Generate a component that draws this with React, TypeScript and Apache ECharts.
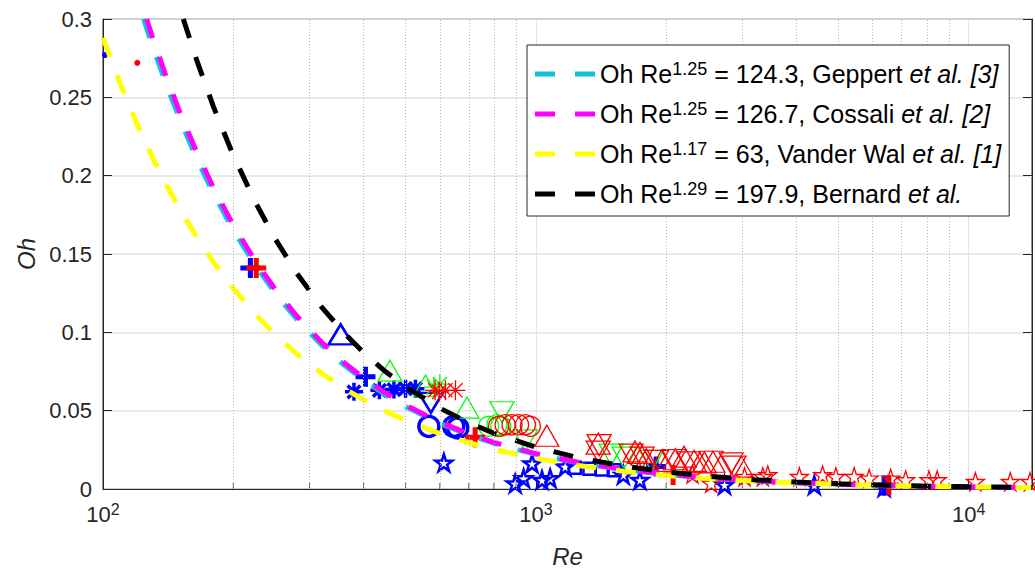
import React, { useEffect, useRef } from 'react';
import * as echarts from 'echarts';

// ---------- Fitted curves (from where it enters the plot) ----------
const RE_GEPPERT = [124.1, 130, 140, 150, 165, 180, 200, 225, 250, 280, 320, 360, 400, 450, 500, 600, 700, 800, 1000, 1250, 1600, 2000, 2500, 3200, 4000, 5000, 6500, 8000, 10000, 14000];
const OH_GEPPERT = [0.3, 0.2832, 0.2581, 0.2368, 0.2102, 0.1886, 0.1652, 0.1426, 0.125, 0.1085, 0.09184, 0.07926, 0.0695, 0.05998, 0.05257, 0.04185, 0.03452, 0.02921, 0.02211, 0.01672, 0.01228, 0.009294, 0.007033, 0.005165, 0.003908, 0.002956, 0.00213, 0.001643, 0.001243, 0.000816];
const RE_COSSALI = [126.1, 130, 140, 150, 165, 180, 200, 225, 250, 280, 320, 360, 400, 450, 500, 600, 700, 800, 1000, 1250, 1600, 2000, 2500, 3200, 4000, 5000, 6500, 8000, 10000, 14000];
const OH_COSSALI = [0.3, 0.2886, 0.2631, 0.2414, 0.2143, 0.1922, 0.1684, 0.1454, 0.1274, 0.1106, 0.09362, 0.08079, 0.07084, 0.06114, 0.05358, 0.04266, 0.03519, 0.02977, 0.02253, 0.01704, 0.01252, 0.009474, 0.007168, 0.005265, 0.003983, 0.003013, 0.002171, 0.001675, 0.001267, 0.000832];
const RE_VANDERWAL = [100, 110, 120, 130, 140, 150, 165, 180, 200, 225, 250, 280, 320, 360, 400, 450, 500, 600, 700, 800, 1000, 1250, 1600, 2000, 2500, 3200, 4000, 5000, 6500, 8000, 10000, 14000];
const OH_VANDERWAL = [0.288, 0.2576, 0.2326, 0.2119, 0.1943, 0.1792, 0.1603, 0.1448, 0.128, 0.1115, 0.09857, 0.08633, 0.07384, 0.06434, 0.05688, 0.04955, 0.04381, 0.03538, 0.02954, 0.02527, 0.01948, 0.01499, 0.01123, 0.008652, 0.006664, 0.004992, 0.003846, 0.002961, 0.00218, 0.001709, 0.001316, 0.000888];
const RE_BERNARD = [153.3, 165, 180, 200, 225, 250, 280, 320, 360, 400, 450, 500, 600, 700, 800, 1000, 1250, 1600, 2000, 2500, 3200, 4000, 5000, 6500, 8000, 10000, 14000];
const OH_BERNARD = [0.3, 0.2729, 0.2439, 0.2129, 0.1829, 0.1596, 0.1379, 0.1161, 0.09973, 0.08706, 0.07478, 0.06528, 0.0516, 0.04228, 0.0356, 0.0267, 0.02002, 0.01456, 0.010917, 0.008187, 0.005955, 0.004465, 0.003347, 0.002386, 0.001826, 0.001369, 0.000887];

const CURVE_NAMES = ['Geppert', 'Cossali', 'VanderWal', 'Bernard'];
const CURVE_EXPONENTS = ['1.25', '1.25', '1.17', '1.29'];
const CURVE_CONSTANTS = ['124.3', '126.7', '63', '197.9'];
const CURVE_AUTHORS = ['Geppert', 'Cossali', 'Vander Wal', 'Bernard'];
const CURVE_REFS = [' [3]', ' [2]', ' [1]', ''];
const CURVE_COLORS = ['#12C3DA', '#FF00FF', '#FFFF00', '#000000'];

// ---------- Experimental points [Re, Oh] ----------
const BLUE_DOT = [[101, 0.277]];
const RED_DOT = [[120, 0.272]];
const BLUE_PLUS = [[219, 0.141], [404, 0.0717], [1896, 0.0143], [6375, 0.002]];
const RED_PLUS = [[226, 0.141], [724, 0.033], [2075, 0.009], [6540, 0.0025]];
const BLUE_TRI_UP = [[354, 0.0987]];
const BLUE_ASTERISK = [[380, 0.062], [435, 0.063], [470, 0.0635], [500, 0.064], [527, 0.064]];
const BLUE_TRI_DOWN = [[572, 0.055]];
const BLUE_CIRCLE = [[566, 0.04], [646, 0.04], [660, 0.039]];
const BLUE_SQUARE = [[1230, 0.0135], [1330, 0.013], [1420, 0.0125], [1520, 0.012]];
const BLUE_STAR = [[613, 0.0168], [896, 0.0035], [937, 0.0068], [980, 0.0163], [1033, 0.0058], [1079, 0.0068], [1169, 0.0143], [1592, 0.009], [1739, 0.0058], [2728, 0.0027], [4398, 0.0025], [6375, 0.0012]];
const GREEN_TRI_UP = [[460, 0.0755], [556, 0.066], [693, 0.052]];
const GREEN_ASTERISK = [[581, 0.065], [600, 0.067]];
const GREEN_CIRCLE = [[778, 0.04], [813, 0.041], [830, 0.04]];
const GREEN_TRI_DOWN = [[835, 0.049], [946, 0.031], [1493, 0.022], [1600, 0.02], [1850, 0.018]];
const RED_ASTERISK = [[585, 0.063], [598, 0.062], [618, 0.063], [652, 0.063]];
const RED_CIRCLE = [[820, 0.04], [849, 0.041], [881, 0.041], [912, 0.041], [946, 0.041], [971, 0.04]];
const RED_TRI_UP = [[1060, 0.034], [1393, 0.029], [1694, 0.024], [1740, 0.023], [1800, 0.019], [1950, 0.018], [2100, 0.019], [2200, 0.0206], [2320, 0.018], [2450, 0.017], [2565, 0.0174], [2981, 0.0143]];
const RED_TRI_DOWN = [[1393, 0.0238], [1400, 0.028], [1660, 0.022], [1760, 0.02], [1900, 0.018], [2085, 0.0185], [2250, 0.017], [2540, 0.0174], [2826, 0.0163], [2870, 0.0143]];
const RED_STAR = [[2300, 0.0095], [2540, 0.0037], [3035, 0.0079], [3344, 0.0079], [3434, 0.009], [4062, 0.0079], [4596, 0.009], [4932, 0.0079], [5437, 0.0079], [5888, 0.0068], [6601, 0.0068], [7150, 0.0058], [8092, 0.0058], [8456, 0.0058], [10361, 0.0047], [12475, 0.0047], [13850, 0.0047]];

// ---------- Axis ticks ----------
const X_MAJOR = [100, 1000, 10000];
const X_EXP = ['2', '3', '4'];
const X_MINOR = [200, 300, 400, 500, 600, 700, 800, 900, 2000, 3000, 4000, 5000, 6000, 7000, 8000, 9000];

const FONT = '"Liberation Sans", Arial, Helvetica, sans-serif';
const AXIS_COLOR = '#262626';

const STAR = 'path://M50,0L61.2,34.5L97.6,34.5L68.2,55.9L79.4,90.5L50,69.1L20.6,90.5L31.8,55.9L2.4,34.5L38.8,34.5Z';
const ASTER = 'path://M50,0L50,100M0,50L100,50M14.6,14.6L85.4,85.4M85.4,14.6L14.6,85.4';
const PLUS = 'path://M50,0L50,100M0,50L100,50';
const LEGEND_DASH = 'path://M0,0H20V5H0ZM40,0H60V5H40Z';

function sc(data: number[][], symbol: string, size: any, color: string, lw: number, rotate = 0, filled = false) {
  return {
    type: 'scatter',
    data,
    symbol,
    symbolSize: size,
    symbolRotate: rotate,
    silent: true,
    z: 2,
    itemStyle: { color: filled ? color : 'none', borderColor: color, borderWidth: filled ? 0 : lw, opacity: 1 },
  };
}

export default function App() {
  const ref = useRef<HTMLDivElement>(null);
  useEffect(() => {
    if (!ref.current) return;
    const chart = echarts.init(ref.current, undefined, { renderer: 'svg' });

    const legendText: Record<string, string> = {};
    CURVE_NAMES.forEach((n, i) => {
      legendText[n] = `Oh Re{sup|${CURVE_EXPONENTS[i]}} = ${CURVE_CONSTANTS[i]}, ${CURVE_AUTHORS[i]} {it|et al.${CURVE_REFS[i]}}`;
    });
    const curveRe = [RE_GEPPERT, RE_COSSALI, RE_VANDERWAL, RE_BERNARD];
    const curveOh = [OH_GEPPERT, OH_COSSALI, OH_VANDERWAL, OH_BERNARD];

    const lineSeries = CURVE_NAMES.map((name, i) => ({
      type: 'line',
      name,
      data: curveRe[i].map((r, k) => [r, curveOh[i][k]]),
      symbol: 'none',
      showSymbol: false,
      clip: true,
      silent: true,
      z: 3,
      lineStyle: { color: CURVE_COLORS[i], width: 5, type: [20, 20], cap: 'butt' },
      itemStyle: { color: CURVE_COLORS[i] },
    }));

    const minorSeries = {
      type: 'scatter',
      data: X_MINOR.map((v) => [v, 0]),
      symbol: 'rect',
      symbolSize: [1, 6],
      symbolOffset: [0, -3],
      silent: true,
      z: 1,
      itemStyle: { color: AXIS_COLOR },
      markLine: {
        silent: true,
        symbol: ['none', 'none'],
        label: { show: false },
        lineStyle: { color: '#b8b8b8', width: 1, type: [1, 2] },
        data: X_MINOR.map((v) => ({ xAxis: v })),
      },
    };

    const scatterSeries = [
      sc(BLUE_DOT, 'circle', 6, '#0000FF', 0, 0, true),
      sc(RED_DOT, 'circle', 6, '#FF0000', 0, 0, true),
      sc(BLUE_STAR, STAR, 17, '#0000FF', 2.5),
      sc(BLUE_SQUARE, 'rect', 12, '#0000FF', 2.5),
      sc(BLUE_CIRCLE, 'circle', 20, '#0000FF', 3.5),
      sc(BLUE_TRI_DOWN, 'triangle', [24, 20], '#0000FF', 2.5, 180),
      sc(BLUE_ASTERISK, ASTER, 18, '#0000FF', 3.5),
      sc(BLUE_TRI_UP, 'triangle', [24, 20], '#0000FF', 2.5),
      sc(BLUE_PLUS, PLUS, 20, '#0000FF', 5),
      sc(GREEN_TRI_UP, 'triangle', [24, 21], '#00FF00', 1.3),
      sc(GREEN_ASTERISK, ASTER, 20, '#00FF00', 1.3),
      sc(GREEN_CIRCLE, 'circle', 20, '#00FF00', 1.3),
      sc(GREEN_TRI_DOWN, 'triangle', [24, 21], '#00FF00', 1.3, 180),
      sc(RED_ASTERISK, ASTER, 20, '#FF0000', 1.3),
      sc(RED_CIRCLE, 'circle', 20, '#FF0000', 1.3),
      sc(RED_TRI_UP, 'triangle', [24, 21], '#FF0000', 1.3),
      sc(RED_TRI_DOWN, 'triangle', [24, 21], '#FF0000', 1.3, 180),
      sc(RED_STAR, STAR, 18, '#FF0000', 1.3),
      sc(RED_PLUS, PLUS, 20, '#FF0000', 5),
    ];

    const option: any = {
      animation: false,
      backgroundColor: '#ffffff',
      textStyle: { fontFamily: FONT },
      grid: { left: 103, top: 19, width: 932, height: 473, show: true, borderColor: AXIS_COLOR, borderWidth: 1, containLabel: false },
      legend: {
        data: CURVE_NAMES,
        icon: LEGEND_DASH,
        orient: 'vertical',
        left: 527,
        top: 45,
        padding: [15, 8, 8, 8],
        itemGap: 12,
        itemWidth: 60,
        itemHeight: 5,
        backgroundColor: '#ffffff',
        borderColor: AXIS_COLOR,
        borderWidth: 1,
        borderRadius: 0,
        selectedMode: false,
        formatter: (n: string) => legendText[n],
        textStyle: {
          fontFamily: FONT,
          fontSize: 25,
          lineHeight: 28,
          color: '#000000',
          rich: {
            sup: { fontFamily: FONT, fontSize: 18, lineHeight: 12, verticalAlign: 'top', color: '#000000' },
            it: { fontFamily: FONT, fontSize: 25, lineHeight: 28, fontStyle: 'italic', color: '#000000' },
          },
        },
        z: 10,
      },
      xAxis: [
        {
          type: 'log',
          logBase: 10,
          min: 100,
          max: 14000,
          name: 'Re',
          nameLocation: 'middle',
          nameGap: 55,
          nameTextStyle: { fontFamily: FONT, fontSize: 24, fontStyle: 'italic', color: AXIS_COLOR },
          axisLine: { show: true, lineStyle: { color: AXIS_COLOR, width: 1 } },
          axisTick: { show: true, inside: true, length: 9, lineStyle: { color: AXIS_COLOR } },
          splitLine: { show: true, lineStyle: { color: '#e3e3e3', width: 1 } },
          axisLabel: {
            margin: 12,
            color: AXIS_COLOR,
            fontFamily: FONT,
            formatter: (v: number) => {
              const k = X_MAJOR.findIndex((m) => Math.abs(m - v) < m * 1e-6);
              return k >= 0 ? `{b|10}{e|${X_EXP[k]}}` : '';
            },
            rich: {
              b: { fontFamily: FONT, fontSize: 22, lineHeight: 26, color: AXIS_COLOR },
              e: { fontFamily: FONT, fontSize: 16, lineHeight: 10, verticalAlign: 'top', color: AXIS_COLOR },
            },
          },
        },
      ],
      yAxis: [
        {
          type: 'value',
          min: 0,
          max: 0.3,
          interval: 0.05,
          name: 'Oh',
          nameLocation: 'middle',
          nameGap: 62,
          nameRotate: 90,
          nameTextStyle: { fontFamily: FONT, fontSize: 24, fontStyle: 'italic', color: AXIS_COLOR },
          axisLine: { show: true, lineStyle: { color: AXIS_COLOR, width: 1 } },
          axisTick: { show: true, inside: true, length: 9, lineStyle: { color: AXIS_COLOR } },
          splitLine: { show: true, lineStyle: { color: '#e3e3e3', width: 1.5 } },
          axisLabel: { fontFamily: FONT, fontSize: 22, color: AXIS_COLOR, margin: 11 },
        },
        {
          type: 'value',
          min: 0,
          max: 0.3,
          interval: 0.05,
          position: 'right',
          axisLine: { show: true, lineStyle: { color: AXIS_COLOR, width: 1 } },
          axisTick: { show: true, inside: true, length: 9, lineStyle: { color: AXIS_COLOR } },
          splitLine: { show: false },
          axisLabel: { show: false },
        },
      ],
      series: [minorSeries, ...scatterSeries, ...lineSeries],
    };
    chart.setOption(option);
    return () => chart.dispose();
  }, []);
  return <div ref={ref} style={{ position: 'absolute', left: 0, top: 0, width: 1035, height: 573 }} />;
}
